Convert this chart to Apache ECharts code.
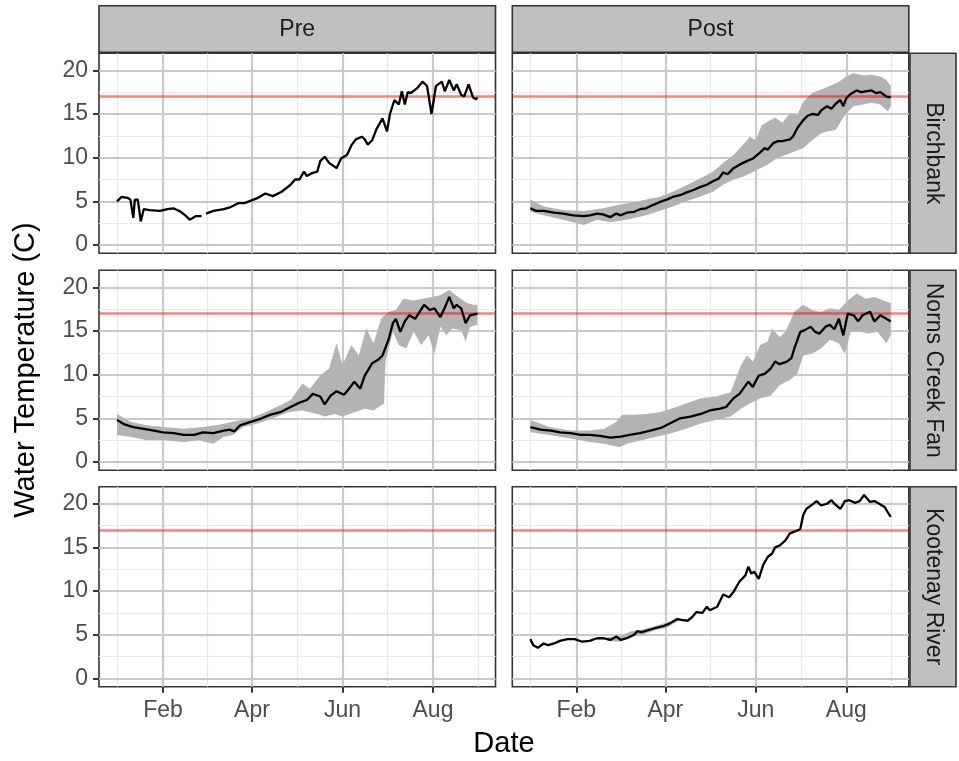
<!DOCTYPE html>
<html>
<head>
<meta charset="utf-8">
<title>Water Temperature</title>
<script src="https://cdn.jsdelivr.net/npm/echarts@6.0.0/dist/echarts.min.js"></script>
<style>
  html, body { margin: 0; padding: 0; background: #fff; }
  #main { width: 959px; height: 761px; }
</style>
</head>
<body>
<div id="main"></div>
<script>
// 坐标轴刻度 (day 0 = Jan 1)
const dayTicks = [31, 91, 152, 213];
const dayTickLabels = ['Feb', 'Apr', 'Jun', 'Aug'];
const dayMinorBreaks = [0, 61, 121.5, 182.5, 243.5];
const tempTicks = [0, 5, 10, 15, 20];
const tempMinorBreaks = [2.5, 7.5, 12.5, 17.5];
const threshold = 17;

const periods = ['Pre', 'Post'];
const sites = ['Birchbank', 'Norns Creek Fan', 'Kootenay River'];

// Birchbank - Pre
const preBirchDays = [0,3,7,9,11,12,14,16,18,22,29,34,38,43,46,49,53,57,59,60,65,72,76,82,86,92,95,100,105,111,117,120,123,126,128,131,135,137,140,143,148,151,155,158,161,165,167,169,172,175,179,182,184,187,190,192,194,196,198,202,206,209,212,215,219,221,224,227,229,232,234,237,240,242,243];
const preBirchTemp = [5.0,5.5,5.4,5.2,3.1,5.2,5.2,2.7,4.1,4.0,3.9,4.1,4.2,3.8,3.4,2.9,3.3,3.3,null,3.6,3.9,4.1,4.3,4.8,4.8,5.2,5.4,5.9,5.6,6.1,6.9,7.5,7.5,8.4,7.9,8.2,8.4,9.6,10.1,9.4,8.8,9.9,10.3,11.4,12.1,12.4,12.1,11.5,12.0,13.3,14.5,13.0,15.0,16.6,16.1,17.6,16.1,17.5,17.4,17.9,18.7,18.2,15.0,18.2,18.7,17.6,18.9,17.7,18.4,17.2,17.0,18.4,16.9,16.7,16.9];

// Birchbank - Post
const postBirchDays = [0,4,9,16,22,29,36,40,45,49,54,58,61,65,70,74,78,83,87,92,96,101,105,110,114,119,123,127,130,133,137,141,146,150,155,158,160,164,167,170,175,177,180,184,187,190,194,196,200,203,206,209,211,213,216,220,223,226,230,233,236,240,243];
const postBirchTemp = [4.2,3.9,3.9,3.7,3.6,3.4,3.3,3.4,3.6,3.5,3.2,3.6,3.4,3.7,3.8,4.1,4.2,4.6,4.9,5.2,5.5,5.7,6.0,6.3,6.6,6.9,7.3,7.6,8.3,8.1,8.8,9.2,9.6,9.9,10.6,11.1,10.9,11.7,11.9,11.9,12.1,12.4,13.4,14.3,14.8,15.0,14.9,15.4,15.9,15.6,16.2,16.6,15.9,16.8,17.3,17.7,17.5,17.6,17.7,17.4,17.5,17.0,16.9];
const postBirchHiDays = [0,9,22,36,49,60,70,78,87,96,105,114,123,130,137,143,148,152,156,160,165,170,175,180,184,190,196,202,208,213,218,224,230,236,240,243];
const postBirchHi = [5.2,4.4,4.0,3.9,4.2,4.6,4.9,5.2,5.5,6.1,6.8,7.6,8.4,9.4,10.3,11.4,12.4,12.0,13.7,14.1,14.6,14.0,15.1,14.9,16.4,17.4,17.8,18.2,18.7,19.3,19.7,19.4,19.5,19.3,18.9,18.2];
const postBirchLoDays = [0,9,22,36,45,54,65,78,87,96,105,114,123,130,137,143,148,155,160,166,172,178,184,190,196,200,206,210,213,218,224,230,236,241,243];
const postBirchLo = [3.8,3.4,2.9,2.3,2.9,2.6,2.9,3.4,3.9,4.4,5.0,5.5,6.1,6.9,7.5,7.8,8.2,8.8,9.2,9.9,10.3,10.7,11.1,12.0,12.8,13.0,13.2,14.3,15.1,15.9,16.1,16.3,16.1,15.3,15.9];

// Norns Creek Fan - Pre
const preNornsDays = [0,5,11,18,25,31,38,45,52,58,65,72,76,79,83,90,96,103,110,117,123,128,132,137,140,144,148,153,156,160,164,167,172,176,179,183,186,188,191,194,197,201,204,207,211,214,218,221,224,227,229,232,235,238,243];
const preNornsTemp = [4.8,4.3,4.0,3.8,3.6,3.4,3.3,3.1,3.1,3.4,3.3,3.6,3.7,3.5,4.2,4.6,4.9,5.4,5.7,6.3,6.8,7.1,7.8,7.5,6.6,7.6,8.1,7.7,8.3,9.2,8.4,9.9,11.3,11.7,12.2,14.0,15.9,16.4,14.9,16.1,16.8,16.4,17.2,18.0,17.4,17.6,16.6,17.7,18.9,17.6,18.0,17.6,15.9,16.8,17.0];
const preNornsHiDays = [0,9,20,31,45,58,70,78,90,100,110,117,125,130,137,143,148,152,158,163,168,173,178,183,188,193,200,206,212,218,224,230,236,240,243];
const preNornsHi = [5.5,4.6,4.2,4.0,3.8,4.0,4.3,4.6,5.0,5.7,6.5,7.1,9.0,8.4,9.9,10.7,13.6,11.1,13.4,12.2,15.3,13.6,16.4,17.2,17.4,18.7,18.5,18.7,18.9,19.1,19.7,18.9,18.2,18.0,18.0];
const preNornsLoDays = [0,9,20,31,45,55,65,72,78,85,95,105,115,125,135,140,147,152,160,167,173,178,180,181,186,190,195,200,205,210,214,218,222,226,232,235,238,243];
const preNornsLo = [3.1,2.9,2.5,2.5,2.3,2.5,2.1,2.9,3.1,4.0,4.4,5.0,5.7,5.9,5.5,5.2,5.5,5.2,5.7,6.1,5.9,6.5,6.7,11.5,14.9,13.4,13.0,14.9,13.4,14.5,12.4,15.5,14.5,15.3,15.1,13.8,15.5,15.7];

// Norns Creek Fan - Post
const postNornsDays = [0,7,14,20,27,34,40,47,54,61,67,74,81,88,94,101,108,115,121,128,132,137,141,147,150,154,158,162,165,168,173,176,178,182,185,189,192,195,199,202,205,208,211,214,218,221,224,229,232,236,240,243];
const postNornsTemp = [4.0,3.7,3.6,3.4,3.3,3.1,3.1,3.0,2.8,2.9,3.1,3.3,3.6,3.9,4.4,5.0,5.2,5.5,5.9,6.1,6.3,7.3,7.8,9.2,8.6,9.9,10.1,10.7,11.5,11.2,11.5,11.9,13.0,14.9,15.1,15.5,14.9,14.7,15.5,15.7,15.2,16.4,14.5,17.0,16.8,16.1,16.8,17.2,16.1,16.8,16.4,16.1];
const postNornsHiDays = [0,13,27,40,50,58,62,70,78,87,95,105,115,125,135,142,146,150,155,160,163,168,172,178,184,190,196,202,208,214,220,226,232,238,243];
const postNornsHi = [4.8,4.0,3.6,3.6,3.8,4.6,5.4,5.4,5.5,5.7,6.1,6.7,7.3,7.5,8.0,11.1,12.2,11.5,13.4,13.8,15.3,14.3,14.9,17.2,18.0,17.4,17.2,17.6,17.4,18.5,19.3,18.7,18.9,18.5,18.2];
const postNornsLoDays = [0,13,27,40,50,60,65,75,85,95,105,115,125,135,142,148,155,162,168,175,180,184,190,196,202,208,212,216,222,228,234,240,243];
const postNornsLo = [3.4,3.1,2.7,2.3,2.1,1.7,2.1,2.5,2.9,3.3,3.8,4.4,4.8,5.2,6.1,6.7,7.3,7.6,8.8,9.4,10.1,12.2,12.4,13.0,14.0,13.6,12.4,14.9,14.9,14.7,14.9,13.6,14.5];

// Kootenay River - Post (Pre has no data)
const postKootDays = [0,2,5,9,12,16,20,25,30,35,40,45,49,54,58,61,65,70,72,75,81,85,90,94,99,102,106,109,112,116,119,121,126,130,134,137,141,145,147,149,151,154,157,160,163,165,168,172,175,178,182,184,186,190,193,196,200,203,205,209,212,215,219,222,225,229,232,236,239,241,243];
const postKootTemp = [4.5,3.8,3.5,4.0,3.8,4.0,4.3,4.5,4.5,4.2,4.3,4.6,4.6,4.4,4.8,4.4,4.6,5.0,5.4,5.3,5.6,5.8,6.0,6.3,6.8,6.7,6.6,7.0,7.6,7.5,8.2,7.8,8.2,9.6,9.3,9.9,11.1,11.8,12.8,12.0,12.2,11.4,13.0,13.9,14.3,15.0,15.2,15.8,16.6,16.8,17.1,18.7,19.4,19.9,20.3,19.8,20.0,20.4,20.0,19.4,20.3,20.4,20.1,20.3,21.0,20.2,20.3,19.9,19.6,19.0,18.5];
const postKootBandDays = [52,60,68,76,84,92,100];
const postKootHi = [4.7,4.8,5.4,5.6,6.0,6.4,6.9];
const postKootLo = [4.3,4.2,4.8,5.0,5.5,5.8,6.6];

const FONT = '"Liberation Sans", Arial, Helvetica, sans-serif';
const colLeft = [99, 512.3];
const rowTop = [53.3, 270.3, 486.7];
const panelW = 396.5, panelH = 200;

const panels = [
  {row: 0, col: 0, mean: [preBirchDays, preBirchTemp]},
  {row: 0, col: 1, mean: [postBirchDays, postBirchTemp], hi: [postBirchHiDays, postBirchHi], lo: [postBirchLoDays, postBirchLo]},
  {row: 1, col: 0, mean: [preNornsDays, preNornsTemp], hi: [preNornsHiDays, preNornsHi], lo: [preNornsLoDays, preNornsLo]},
  {row: 1, col: 1, mean: [postNornsDays, postNornsTemp], hi: [postNornsHiDays, postNornsHi], lo: [postNornsLoDays, postNornsLo]},
  {row: 2, col: 0},
  {row: 2, col: 1, mean: [postKootDays, postKootTemp], hi: [postKootBandDays, postKootHi], lo: [postKootBandDays, postKootLo]}
];

function zip(days, vals) {
  return days.map((d, i) => [d, vals[i] == null ? '-' : vals[i]]);
}

function gridLineData() {
  const major = {color: '#c9c9c9', width: 2.2, type: 'solid'};
  const minor = {color: '#e8e8e8', width: 1.2, type: 'solid'};
  return [].concat(
    dayMinorBreaks.map(v => ({xAxis: v, lineStyle: minor})),
    tempMinorBreaks.map(v => ({yAxis: v, lineStyle: minor})),
    dayTicks.map(v => ({xAxis: v, lineStyle: major})),
    tempTicks.map(v => ({yAxis: v, lineStyle: major}))
  );
}

let grids = [], xAxes = [], yAxes = [], series = [];

panels.forEach((p, i) => {
  const bottom = p.row === 2, left = p.col === 0;
  grids.push({
    left: colLeft[p.col], top: rowTop[p.row], width: panelW, height: panelH,
    show: true, backgroundColor: '#fff', borderColor: '#333', borderWidth: 1.6
  });
  xAxes.push({
    type: 'value', gridIndex: i, min: -12.15, max: 255.15,
    splitLine: {show: false},
    axisLine: {show: false, onZero: false},
    axisTick: {show: bottom, customValues: dayTicks, length: 6, lineStyle: {color: '#333', width: 2}},
    axisLabel: {
      show: bottom, customValues: dayTicks, margin: 12,
      fontSize: 23, fontFamily: FONT, color: '#4d4d4d',
      formatter: v => dayTickLabels[dayTicks.indexOf(v)]
    }
  });
  yAxes.push({
    type: 'value', gridIndex: i, min: -0.95, max: 21.95,
    splitLine: {show: false},
    axisLine: {show: false, onZero: false},
    axisTick: {show: left, customValues: tempTicks, length: 6, lineStyle: {color: '#333', width: 2}},
    axisLabel: {
      show: left, customValues: tempTicks, margin: 11,
      fontSize: 23, fontFamily: FONT, color: '#4d4d4d'
    }
  });

  // 网格线
  series.push({
    type: 'line', xAxisIndex: i, yAxisIndex: i, data: [], silent: true,
    markLine: {
      silent: true, z: 1, symbol: ['none', 'none'], label: {show: false},
      emphasis: {disabled: true}, animation: false, data: gridLineData()
    }
  });

  // min-max ribbon
  if (p.hi) {
    const outline = zip(p.hi[0], p.hi[1]).concat(zip(p.lo[0], p.lo[1]).reverse());
    series.push({
      type: 'custom', xAxisIndex: i, yAxisIndex: i, z: 2, silent: true,
      data: outline,
      encode: {x: 0, y: 1},
      renderItem: function (params, api) {
        if (params.dataIndex !== 0) return;
        return {
          type: 'polygon',
          shape: {points: outline.map(pt => api.coord(pt))},
          style: {fill: '#b3b3b3'}
        };
      }
    });
  }

  // 17 C threshold
  series.push({
    type: 'line', xAxisIndex: i, yAxisIndex: i, data: [], silent: true,
    markLine: {
      silent: true, z: 3, symbol: ['none', 'none'], label: {show: false},
      emphasis: {disabled: true}, animation: false,
      lineStyle: {color: 'rgba(255,0,0,0.5)', width: 2.6, type: 'solid'},
      data: [{yAxis: threshold}]
    }
  });

  if (p.mean) {
    series.push({
      type: 'line', xAxisIndex: i, yAxisIndex: i, z: 4, silent: true,
      showSymbol: false, connectNulls: false,
      lineStyle: {color: '#000', width: 2.3},
      data: zip(p.mean[0], p.mean[1])
    });
  }
});

// facet strips + titles
let graphics = [];
periods.forEach((name, c) => {
  graphics.push({type: 'rect', z: 10, shape: {x: colLeft[c], y: 5.7, width: panelW, height: 46.6},
    style: {fill: '#c0c0c0', stroke: '#333', lineWidth: 1.6}});
  graphics.push({type: 'text', z: 11, x: colLeft[c] + panelW / 2, y: 29.5,
    style: {text: name, fontSize: 23, fontFamily: FONT, fill: '#1a1a1a',
      align: 'center', verticalAlign: 'middle', textAlign: 'center', textVerticalAlign: 'middle'}});
});
sites.forEach((name, r) => {
  graphics.push({type: 'rect', z: 10, shape: {x: 910, y: rowTop[r], width: 46, height: panelH},
    style: {fill: '#c0c0c0', stroke: '#333', lineWidth: 1.6}});
  graphics.push({type: 'text', z: 11, x: 933, y: rowTop[r] + panelH / 2, rotation: -Math.PI / 2,
    style: {text: name, fontSize: 23, fontFamily: FONT, fill: '#1a1a1a',
      align: 'center', verticalAlign: 'middle', textAlign: 'center', textVerticalAlign: 'middle'}});
});
graphics.push({type: 'text', z: 11, x: 26, y: 370, rotation: Math.PI / 2,
  style: {text: 'Water Temperature (C)', fontSize: 29, fontFamily: FONT, fill: '#000',
    align: 'center', verticalAlign: 'middle', textAlign: 'center', textVerticalAlign: 'middle'}});
graphics.push({type: 'text', z: 11, x: 504, y: 744,
  style: {text: 'Date', fontSize: 29, fontFamily: FONT, fill: '#000',
    align: 'center', verticalAlign: 'middle', textAlign: 'center', textVerticalAlign: 'middle'}});

const option = {
  backgroundColor: '#fff',
  animation: false,
  grid: grids,
  xAxis: xAxes,
  yAxis: yAxes,
  series: series,
  graphic: graphics
};

const myChart = echarts.init(document.getElementById('main'), null, {renderer: 'canvas'});
myChart.setOption(option);
</script>
</body>
</html>
